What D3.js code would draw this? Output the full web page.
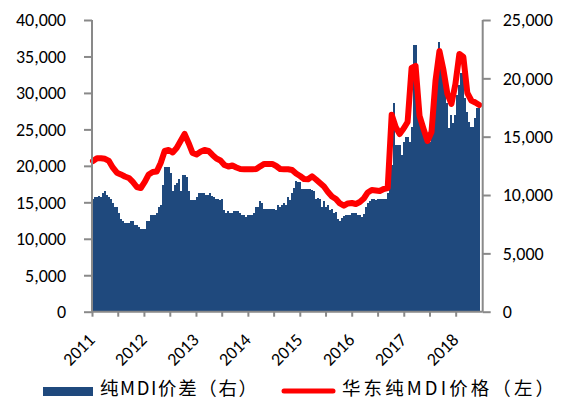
<!DOCTYPE html>
<html>
<head>
<meta charset="utf-8">
<script src="https://cdn.jsdelivr.net/npm/d3@7"></script>
<style>
  html, body { margin: 0; padding: 0; background: #fff; }
  svg { display: block; }
  .tick-label { font-family: Carlito, "Liberation Sans", Arial, sans-serif; font-size: 18px; fill: #000; }
  .legend-label { font-family: "Noto Sans CJK SC", sans-serif; font-size: 18.5px; fill: #000; }
</style>
</head>
<body>
<svg id="chart" width="563" height="400"></svg>
<script>
// ---- data ----
const startDate = "2011-01-01";
const spreadStepDays = 14;   // bar spacing (bi-weekly)
const priceStepDays = 28;    // line point spacing

// 纯MDI价差（右） – right axis
const spreadValues = [
  9634, 9805, 9805, 9917, 9805, 10148, 10320, 9977, 9805, 9634,
  9291, 8948, 8948, 8434, 7920, 7748, 7628, 7577, 7577, 7800,
  7800, 7405, 7405, 7285, 7114, 7114, 7114, 7748, 7748, 8262,
  8262, 8262, 8434, 8948, 9120, 10834, 12377, 12377, 12377, 11914,
  10320, 10834, 11005, 11348, 10320, 11691, 11691, 11520, 10320, 9574,
  9574, 9574, 9805, 10148, 10148, 10148, 10148, 9977, 9977, 10148,
  9920, 9805, 9634, 9700, 9574, 9634, 8717, 8485, 8657, 8485,
  8485, 8657, 8657, 8657, 8485, 8314, 8314, 8143, 8314, 8314,
  8314, 8485, 9000, 9000, 9514, 9291, 8828, 8828, 8828, 8828,
  8828, 8828, 8717, 9171, 9000, 9171, 9291, 9146, 9805, 9574,
  10148, 10577, 11228, 11117, 11117, 10543, 10543, 10543, 10543, 10543,
  10431, 10371, 9634, 9745, 9634, 9000, 9514, 8948, 9120, 8717,
  8828, 8485, 8545, 7920, 7748, 8031, 8202, 8314, 8314, 8314,
  8434, 8434, 8434, 8314, 8260, 8091, 8374, 8948, 9291, 9514,
  9634, 9634, 9574, 9634, 9634, 9634, 9634, 9634, 10150, 12000,
  12574, 17860, 14290, 14290, 14290, 13430, 14570, 15000, 15000, 14570,
  15857, 22860, 22860, 17430, 16286, 16000, 16000, 15143, 14570, 14570,
  15290, 18800, 20430, 20000, 23140, 21000, 20000, 18860, 17860, 15720,
  16860, 16150, 16860, 18570, 19430, 20430, 20430, 18290, 17140, 16290,
  15857, 15857, 16570, 17430, 17430
];

// 华东纯MDI价格（左） – left axis
const priceValues = [
  20670, 21040, 21040, 20970, 20670, 19750, 19060, 18820, 18540, 18340,
  17790, 17100, 16960, 17790, 18820, 19160, 19230, 20390, 22040, 22180,
  21830, 22450, 23410, 24370, 23140, 21760, 21560, 21930, 22180, 22040,
  21490, 21010, 20740, 20120, 19910, 20050, 19780, 19570, 19530, 19530,
  19530, 19570, 19940, 20260, 20260, 20260, 19980, 19570, 19530, 19530,
  19430, 18950, 18610, 18200, 18160, 18570, 18130, 17650, 17170, 16420,
  15800, 15460, 14840, 14540, 14840, 14910, 14770, 15040, 15520, 16350,
  16690, 16620, 16550, 16830, 16960, 27000, 25330, 24370, 25120, 26020,
  33420, 33700, 26840, 25060, 23410, 24640, 31640, 35750, 33150, 29860,
  28480, 31200, 35340, 34930, 29990, 28960, 28690, 28350
];

const yearLabels = ["2011", "2012", "2013", "2014", "2015", "2016", "2017", "2018"];
const leftTicks = [0, 5000, 10000, 15000, 20000, 25000, 30000, 35000, 40000];
const rightTicks = [0, 5000, 10000, 15000, 20000, 25000];
const legendLabels = ["纯MDI价差（右）", "华东纯MDI价格（左）"];

// ---- chart ----
const svg = d3.select("#chart");
const plot = { left: 92, right: 482.7, top: 20, bottom: 311.7 };
const axisColor = "#898989";
const barColor = "#1F497D";
const lineColor = "#FF0000";

const parse = d3.utcParse("%Y-%m-%d");
const t0 = parse(startDate);
const addDays = (d, n) => new Date(d.getTime() + n * 86400000);

const x = d3.scaleUtc()
  .domain([t0, parse("2018-07-10")])
  .range([plot.left, plot.right]);
const yL = d3.scaleLinear().domain([0, 40000]).range([plot.bottom, plot.top]);
const yR = d3.scaleLinear().domain([0, 25000]).range([plot.bottom, plot.top]);

// bars
const bars = spreadValues.map((v, i) => ({ d0: addDays(t0, i * spreadStepDays), d1: addDays(t0, (i + 1) * spreadStepDays), v }));
svg.append("g")
  .attr("shape-rendering", "crispEdges")
  .selectAll("rect")
  .data(bars)
  .join("rect")
  .attr("x", d => Math.round(x(d.d0)))
  .attr("width", d => Math.max(1, Math.round(x(d.d1)) - Math.round(x(d.d0))))
  .attr("y", d => yR(d.v))
  .attr("height", d => yR(0) - yR(d.v))
  .attr("fill", barColor);

// line
const pts = priceValues.map((v, j) => ({ d: addDays(t0, j * priceStepDays + spreadStepDays / 2), v }));
svg.append("path")
  .datum(pts)
  .attr("fill", "none")
  .attr("stroke", lineColor)
  .attr("stroke-width", 6)
  .attr("stroke-linejoin", "round")
  .attr("stroke-linecap", "round")
  .attr("d", d3.line().x(d => x(d.d)).y(d => yL(d.v)));

// left axis
const fmt = d3.format(",");
const gL = svg.append("g").attr("transform", `translate(${plot.left},0)`)
  .call(d3.axisLeft(yL).tickValues(leftTicks).tickSize(8).tickPadding(18).tickFormat(fmt));
// right axis
const gR = svg.append("g").attr("transform", `translate(${plot.right},0)`)
  .call(d3.axisRight(yR).tickValues(rightTicks).tickSize(8).tickPadding(12).tickFormat(fmt));
// bottom axis
const yearDates = yearLabels.map(y => parse(y + "-01-01"));
const halfDates = yearLabels.slice(0, 7).map(y => parse(y + "-07-01"));
const gB = svg.append("g").attr("transform", `translate(0,${plot.bottom})`)
  .call(d3.axisBottom(x).tickValues(yearDates.concat(halfDates)).tickSize(5).tickFormat(() => ""));
gB.selectAll("text").remove();

[gL, gR, gB].forEach(g => {
  g.select(".domain").attr("stroke", axisColor).attr("stroke-width", 2);
  g.selectAll(".tick line").attr("stroke", axisColor).attr("stroke-width", 2);
  g.selectAll(".tick text").attr("class", "tick-label").attr("font-size", null).attr("font-family", null);
});
gB.select(".domain").attr("d", `M${plot.left},0H${plot.right}`);
gL.select(".domain").attr("d", `M0,${plot.top}V${plot.bottom}`);
gR.select(".domain").attr("d", `M0,${plot.top}V${plot.bottom}`);

// rotated year labels
svg.append("g")
  .selectAll("text")
  .data(yearLabels)
  .join("text")
  .attr("class", "tick-label")
  .attr("text-anchor", "end")
  .attr("transform", (d, i) => `translate(${x(yearDates[i]) + 4},341) rotate(-45)`)
  .text(d => d);

// legend
const lg = svg.append("g");
lg.append("rect").attr("x", 43).attr("y", 387).attr("width", 50).attr("height", 9).attr("fill", barColor);
lg.append("text").attr("class", "legend-label").attr("x", 100).attr("y", 394.5)
  .attr("textLength", 157).attr("lengthAdjust", "spacing").text(legendLabels[0]);
lg.append("line").attr("x1", 284).attr("x2", 333).attr("y1", 391).attr("y2", 391)
  .attr("stroke", lineColor).attr("stroke-width", 5).attr("stroke-linecap", "round");
lg.append("text").attr("class", "legend-label").attr("x", 342).attr("y", 394.5)
  .attr("textLength", 212).attr("lengthAdjust", "spacing").text(legendLabels[1]);
</script>
</body>
</html>
